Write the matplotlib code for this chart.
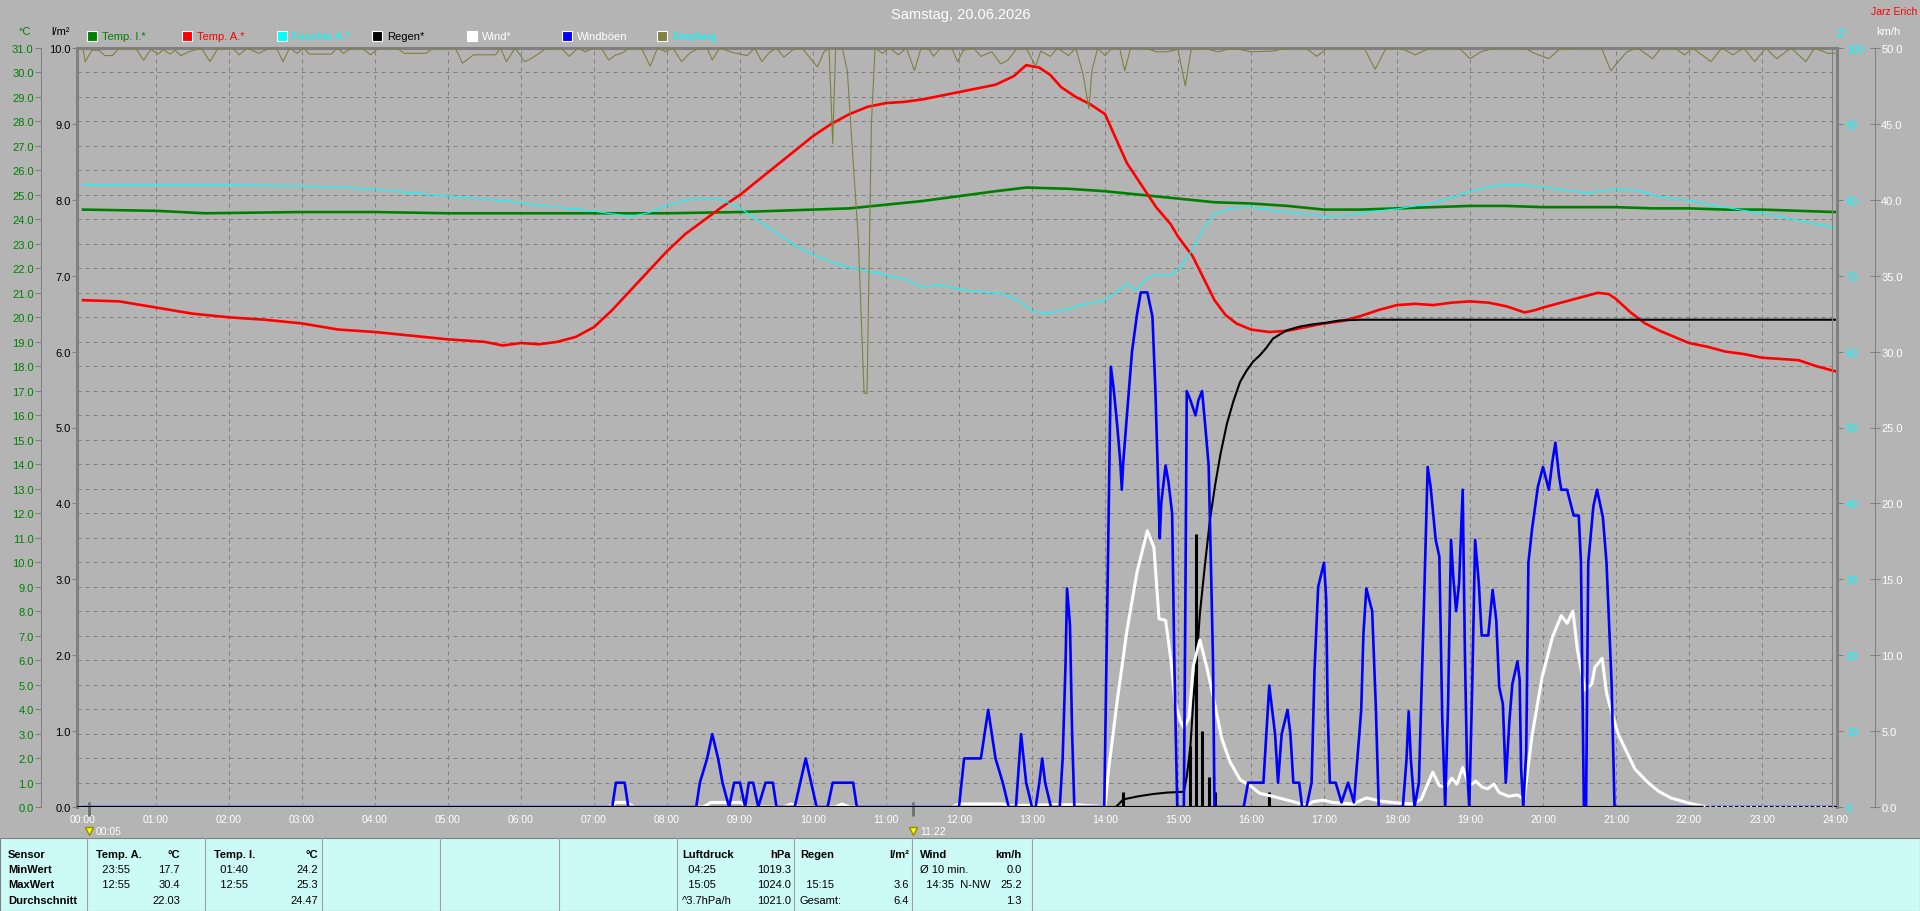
import matplotlib
matplotlib.use("Agg")
import matplotlib.pyplot as plt
from matplotlib.patches import Rectangle
from matplotlib.lines import Line2D
import numpy as np

plt.rcParams['font.family'] = ['Liberation Sans', 'DejaVu Sans']

# ---- data: (hour of day, value) ----
temp_innen = [(0.0, 24.4), (1.0, 24.35), (1.67, 24.25), (3.0, 24.3), (4.0, 24.3), (5.0, 24.25),
              (6.0, 24.25), (7.0, 24.25), (8.0, 24.25), (9.0, 24.3), (10.0, 24.4), (10.5, 24.45),
              (11.0, 24.6), (11.5, 24.75), (12.0, 24.95), (12.5, 25.15), (12.92, 25.3), (13.5, 25.25),
              (14.0, 25.15), (14.5, 25.0), (15.0, 24.85), (15.5, 24.7), (16.0, 24.65), (16.5, 24.55),
              (17.0, 24.4), (17.5, 24.4), (18.0, 24.45), (18.5, 24.5), (19.0, 24.55), (19.5, 24.55),
              (20.0, 24.5), (20.5, 24.5), (21.0, 24.5), (21.5, 24.45), (22.0, 24.45), (22.5, 24.4),
              (23.0, 24.4), (23.5, 24.35), (24.0, 24.3)]

temp_aussen = [(0.0, 20.7), (0.5, 20.65), (1.0, 20.4), (1.5, 20.15), (2.0, 20.0), (2.5, 19.9),
               (3.0, 19.75), (3.5, 19.5), (4.0, 19.4), (4.5, 19.25), (5.0, 19.1), (5.5, 19.0),
               (5.75, 18.85), (6.0, 18.95), (6.25, 18.9), (6.5, 19.0), (6.75, 19.2), (7.0, 19.6),
               (7.25, 20.3), (7.5, 21.1), (7.75, 21.9), (8.0, 22.7), (8.25, 23.4), (8.5, 23.95),
               (8.75, 24.5), (9.0, 25.0), (9.25, 25.6), (9.5, 26.2), (9.75, 26.8), (10.0, 27.4),
               (10.25, 27.9), (10.5, 28.3), (10.75, 28.6), (11.0, 28.75), (11.25, 28.8), (11.5, 28.9),
               (11.75, 29.05), (12.0, 29.2), (12.25, 29.35), (12.5, 29.5), (12.75, 29.85), (12.92, 30.3),
               (13.1, 30.2), (13.25, 29.9), (13.4, 29.4), (13.6, 29.0), (13.8, 28.7), (14.0, 28.3),
               (14.15, 27.3), (14.3, 26.3), (14.5, 25.4), (14.7, 24.5), (14.9, 23.8), (15.0, 23.3),
               (15.2, 22.5), (15.35, 21.6), (15.5, 20.7), (15.65, 20.1), (15.8, 19.75), (16.0, 19.5),
               (16.25, 19.4), (16.5, 19.45), (16.75, 19.6), (17.0, 19.75), (17.25, 19.85), (17.5, 20.05),
               (17.75, 20.3), (18.0, 20.5), (18.25, 20.55), (18.5, 20.5), (18.75, 20.6), (19.0, 20.65),
               (19.25, 20.6), (19.5, 20.45), (19.75, 20.2), (19.9, 20.3), (20.0, 20.4), (20.25, 20.6),
               (20.5, 20.8), (20.75, 21.0), (20.9, 20.95), (21.0, 20.75), (21.2, 20.2), (21.4, 19.75),
               (21.6, 19.45), (21.8, 19.2), (22.0, 18.95), (22.25, 18.8), (22.5, 18.6), (22.75, 18.5),
               (23.0, 18.35), (23.25, 18.3), (23.5, 18.25), (23.75, 18.0), (24.0, 17.8)]

feuchte = [(0.0, 82.0), (1.0, 82.0), (2.0, 81.9), (3.0, 81.8), (3.5, 81.7), (4.0, 81.4), (4.5, 80.9),
           (5.0, 80.5), (5.5, 80.1), (6.0, 79.6), (6.5, 79.0), (7.0, 78.5), (7.5, 77.8), (7.75, 78.3),
           (8.0, 79.3), (8.4, 80.2), (8.75, 80.0), (9.0, 78.9), (9.25, 77.3), (9.5, 75.6), (9.75, 74.0),
           (10.0, 72.8), (10.3, 71.6), (10.6, 70.9), (11.0, 70.1), (11.3, 69.4), (11.5, 68.5),
           (11.75, 68.8), (12.0, 68.2), (12.3, 67.9), (12.6, 67.6), (12.8, 66.8), (13.0, 65.4),
           (13.2, 65.0), (13.45, 65.5), (13.7, 66.2), (14.0, 66.8), (14.2, 68.2), (14.3, 69.0),
           (14.42, 68.0), (14.55, 69.5), (14.7, 70.2), (14.9, 70.0), (15.05, 71.3), (15.2, 73.5),
           (15.35, 76.2), (15.5, 78.2), (15.75, 78.9), (16.0, 79.0), (16.3, 78.6), (16.6, 78.3),
           (17.0, 77.8), (17.3, 77.9), (17.6, 78.4), (18.0, 78.8), (18.5, 79.6), (18.75, 80.3),
           (19.0, 81.1), (19.3, 81.8), (19.6, 82.0), (20.0, 81.7), (20.3, 81.3), (20.6, 80.9),
           (21.0, 81.4), (21.3, 81.2), (21.6, 80.4), (22.0, 79.9), (22.5, 79.0), (23.0, 78.2),
           (23.5, 77.3), (24.0, 76.3)]

regen_summe = [(0.0, 0.0), (14.15, 0.0), (14.25, 0.1), (14.45, 0.14), (14.65, 0.17), (14.85, 0.19),
               (15.08, 0.2), (15.12, 0.4), (15.17, 0.8), (15.21, 1.4), (15.26, 2.0), (15.3, 2.55),
               (15.37, 3.2), (15.44, 3.8), (15.51, 4.25), (15.58, 4.64), (15.67, 5.05), (15.76, 5.35),
               (15.85, 5.6), (15.94, 5.75), (16.03, 5.87), (16.12, 5.95), (16.21, 6.05), (16.3, 6.17),
               (16.4, 6.23), (16.49, 6.28), (16.67, 6.33), (16.85, 6.36), (17.03, 6.38), (17.21, 6.41),
               (17.5, 6.42), (24.0, 6.42)]

regen_5min = [(14.25, 0.2), (15.17, 0.8), (15.25, 3.6), (15.33, 1.0), (15.42, 0.4), (15.5, 0.2),
              (16.25, 0.2)]

wind = [(0.0, 0.0), (7.2, 0.0), (7.3, 0.3), (7.45, 0.3), (7.55, 0.0), (8.5, 0.0), (8.6, 0.3),
        (9.0, 0.3), (9.1, 0.0), (9.6, 0.0), (9.7, 0.2), (9.8, 0.0), (10.3, 0.0), (10.4, 0.2),
        (10.5, 0.0), (11.9, 0.0), (12.0, 0.2), (12.6, 0.2), (12.7, 0.1), (13.3, 0.15), (13.6, 0.15),
        (13.9, 0.05), (14.0, 0.0), (14.05, 2.5), (14.17, 7.1), (14.3, 11.6), (14.44, 15.5),
        (14.58, 18.2), (14.67, 17.1), (14.74, 12.4), (14.83, 12.3), (14.9, 9.8), (14.96, 6.9),
        (15.03, 5.7), (15.08, 5.2), (15.15, 5.9), (15.21, 9.3), (15.3, 11.0), (15.4, 9.1),
        (15.49, 7.1), (15.6, 4.5), (15.71, 3.0), (15.85, 1.8), (15.99, 1.4), (16.12, 0.9),
        (16.3, 0.7), (16.58, 0.35), (16.76, 0.1), (16.85, 0.35), (16.99, 0.45), (17.12, 0.3),
        (17.4, 0.2), (17.58, 0.6), (17.76, 0.4), (18.03, 0.25), (18.21, 0.2), (18.33, 0.5),
        (18.49, 2.3), (18.58, 1.4), (18.67, 1.3), (18.75, 1.9), (18.82, 1.5), (18.9, 2.6),
        (18.99, 1.4), (19.08, 1.7), (19.17, 1.3), (19.24, 1.2), (19.33, 1.5), (19.4, 0.95),
        (19.53, 0.7), (19.65, 0.8), (19.74, 0.5), (19.85, 4.7), (19.99, 8.6), (20.13, 11.2),
        (20.25, 12.6), (20.33, 12.1), (20.41, 12.9), (20.47, 10.4), (20.54, 8.6), (20.58, 7.7),
        (20.67, 8.1), (20.71, 9.2), (20.81, 9.8), (20.87, 7.5), (20.92, 6.6), (21.03, 4.8),
        (21.17, 3.4), (21.26, 2.5), (21.44, 1.6), (21.58, 1.05), (21.75, 0.6), (22.0, 0.25),
        (22.2, 0.05), (22.3, 0.0), (24.0, 0.0)]

boeen = [(0.0, 0), (7.25, 0), (7.3, 1.6), (7.42, 1.6), (7.47, 0),
         (8.4, 0), (8.45, 1.6), (8.55, 3.2), (8.62, 4.8), (8.7, 3.2), (8.76, 1.6), (8.85, 0),
         (8.92, 1.6), (9.0, 1.6), (9.07, 0), (9.12, 1.6), (9.18, 1.6), (9.25, 0), (9.35, 1.6),
         (9.45, 1.6), (9.5, 0), (9.75, 0), (9.9, 3.2), (10.05, 0), (10.2, 0), (10.27, 1.6),
         (10.55, 1.6), (10.6, 0), (12.0, 0), (12.07, 3.2), (12.3, 3.2), (12.4, 6.4), (12.5, 3.2),
         (12.6, 1.6), (12.68, 0), (12.78, 0), (12.85, 4.8), (12.92, 1.6), (13.0, 0), (13.05, 0),
         (13.1, 1.6), (13.14, 3.2), (13.18, 1.6), (13.26, 0), (13.38, 0), (13.42, 3.2), (13.46, 9.5),
         (13.48, 14.4), (13.52, 12.0), (13.55, 4.8), (13.58, 0),
         (13.99, 0), (14.02, 9.5), (14.05, 19.3), (14.08, 29.0), (14.12, 27.5), (14.17, 25.0),
         (14.21, 22.7), (14.23, 20.9), (14.25, 22.7), (14.31, 26.4), (14.37, 30.0), (14.44, 32.5),
         (14.49, 33.9), (14.58, 33.9), (14.65, 32.3), (14.69, 27.5), (14.72, 22.5), (14.75, 17.7),
         (14.77, 20.0), (14.83, 22.5), (14.87, 21.4), (14.92, 19.3), (14.95, 9.5), (14.99, 0),
         (15.08, 0), (15.1, 12.8), (15.12, 27.4), (15.17, 26.8), (15.24, 25.8), (15.28, 26.8),
         (15.33, 27.4), (15.37, 25.3), (15.42, 22.5), (15.45, 16.2), (15.48, 9.5), (15.5, 0),
         (15.9, 0), (15.96, 1.6), (16.17, 1.6), (16.25, 8.0), (16.29, 6.4), (16.33, 4.8),
         (16.37, 1.6), (16.42, 4.8), (16.5, 6.4), (16.54, 4.8), (16.58, 1.6), (16.66, 1.6),
         (16.7, 0), (16.76, 0), (16.83, 1.6), (16.87, 9.0), (16.92, 14.5), (17.0, 16.1),
         (17.03, 13.7), (17.05, 6.4), (17.08, 1.6), (17.16, 1.6), (17.24, 0.3), (17.33, 1.6),
         (17.41, 0.3), (17.51, 6.4), (17.54, 11.4), (17.58, 14.4), (17.66, 12.9), (17.71, 6.6),
         (17.75, 0), (18.08, 0), (18.13, 3.1), (18.16, 6.3), (18.19, 3.1), (18.24, 0), (18.3, 1.6),
         (18.37, 13.4), (18.42, 22.4), (18.46, 21.1), (18.53, 17.6), (18.58, 16.5), (18.62, 5.8),
         (18.66, 0), (18.7, 6.8), (18.74, 17.6), (18.77, 15.2), (18.81, 12.9), (18.85, 14.7),
         (18.9, 20.9), (18.93, 10.2), (18.96, 2.5), (18.99, 0), (19.03, 7.9), (19.07, 17.6),
         (19.12, 14.8), (19.16, 11.3), (19.25, 11.3), (19.31, 14.3), (19.36, 12.3), (19.4, 7.9),
         (19.45, 6.8), (19.49, 1.6), (19.54, 5.7), (19.58, 8.1), (19.65, 9.6), (19.68, 8.4),
         (19.7, 2.5), (19.73, 0), (19.77, 3.6), (19.8, 16.1), (19.85, 18.3), (19.93, 21.1),
         (20.0, 22.4), (20.08, 20.9), (20.13, 22.8), (20.17, 24.0), (20.22, 21.8), (20.25, 20.9),
         (20.33, 20.9), (20.42, 19.2), (20.49, 19.2), (20.52, 16.1), (20.56, 0), (20.59, 0),
         (20.62, 16.1), (20.69, 19.8), (20.74, 20.9), (20.82, 19.1), (20.87, 16.1), (20.94, 8.1),
         (20.98, 0), (24.0, 0)]

empfang = [(0.0, 100), (0.03, 98.2), (0.12, 99.7), (0.22, 99.7), (0.3, 99.0), (0.4, 99.0), (0.5, 100),
           (0.72, 100), (0.83, 98.4), (0.93, 99.8), (1.03, 99.2), (1.1, 99.8), (1.19, 99.2),
           (1.26, 99.7), (1.34, 99.0), (1.45, 99.5), (1.62, 100), (1.74, 98.2), (1.85, 100),
           (2.05, 100), (2.14, 99.1), (2.25, 100), (2.41, 99.3), (2.55, 100), (2.65, 100),
           (2.74, 98.2), (2.83, 100), (2.93, 99.3), (3.02, 100), (3.1, 99.2), (3.4, 99.2), (3.48, 100),
           (3.57, 99.3), (3.68, 100), (3.82, 100), (3.94, 99.1), (4.05, 100), (4.3, 100), (4.4, 99.3),
           (4.7, 99.3), (4.8, 100), (5.1, 100), (5.2, 98.0), (5.35, 99.1), (5.65, 99.1), (5.72, 100),
           (5.8, 98.2), (5.92, 100), (6.05, 98.2), (6.12, 98.5), (6.25, 99.3), (6.35, 100),
           (6.55, 100), (6.66, 98.9), (6.78, 100), (6.88, 99.5), (7.0, 100), (7.1, 100), (7.2, 98.4),
           (7.3, 99.1), (7.38, 99.3), (7.48, 100), (7.65, 100), (7.77, 97.6), (7.87, 100),
           (7.98, 99.5), (8.08, 100), (8.2, 98.2), (8.32, 99.4), (8.45, 100), (8.55, 100),
           (8.62, 98.4), (8.72, 100), (8.9, 99.4), (9.1, 99.0), (9.2, 100), (9.3, 98.2), (9.4, 99.4),
           (9.5, 100), (9.6, 98.8), (9.73, 99.8), (9.85, 100), (10.0, 98.2), (10.06, 97.5),
           (10.15, 99.5), (10.22, 100), (10.27, 87.4), (10.31, 100), (10.4, 100), (10.47, 97.0),
           (10.55, 85.0), (10.62, 75.0), (10.7, 54.5), (10.74, 54.5), (10.8, 90.0), (10.85, 100),
           (10.95, 99.3), (11.05, 100), (11.17, 99.1), (11.28, 100), (11.39, 97.0), (11.48, 100),
           (11.58, 100), (11.65, 98.9), (11.75, 100), (11.9, 100), (11.98, 98.2), (12.06, 99.7),
           (12.2, 100), (12.3, 98.9), (12.45, 99.5), (12.57, 97.9), (12.67, 98.4), (12.8, 100),
           (12.92, 100), (13.05, 97.6), (13.12, 99.6), (13.25, 98.9), (13.35, 100), (13.5, 99.0),
           (13.6, 100), (13.7, 96.5), (13.78, 92.0), (13.82, 97.0), (13.9, 100), (14.0, 99.0),
           (14.1, 100), (14.2, 100), (14.27, 97.0), (14.35, 100), (14.55, 100), (14.7, 99.5),
           (14.85, 99.5), (15.0, 99.8), (15.1, 95.0), (15.18, 99.8), (15.35, 100), (15.55, 99.5),
           (15.75, 100), (16.0, 99.5), (16.3, 99.6), (16.5, 100), (16.75, 100), (16.9, 98.9),
           (17.05, 100), (17.55, 100), (17.7, 97.2), (17.85, 100), (18.05, 100), (18.25, 99.1),
           (18.45, 100), (18.85, 100), (19.0, 98.6), (19.15, 99.5), (19.35, 100), (19.75, 100),
           (19.88, 99.3), (20.08, 98.6), (20.22, 99.8), (20.45, 100), (20.8, 100), (20.93, 97.0),
           (21.03, 98.2), (21.15, 99.5), (21.3, 100), (21.5, 98.6), (21.62, 100), (21.8, 100),
           (21.94, 99.1), (22.05, 100), (22.3, 98.2), (22.45, 100), (22.6, 99.1), (22.75, 100),
           (22.9, 98.2), (23.05, 100), (23.2, 98.6), (23.4, 100), (23.6, 98.2), (23.72, 100),
           (23.9, 99.3), (24.0, 99.3)]

marker_times = [0.083, 11.367]
marker_labels = ["00:05", "11:22"]

hours = list(range(25))
hour_labels = [f"{h:02d}:00" for h in hours]

legend_items = ["Temp. I.*", "Temp. A.*", "Feuchte A.*", "Regen*", "Wind*", "Windböen", "Empfang"]

row_names = ["MinWert", "MaxWert", "Durchschnitt"]
table_blocks = [
    ("Temp. A.", "°C", [("  23:55", "17.7"), ("  12:55", "30.4"), ("", "22.03")]),
    ("Temp. I.", "°C", [("  01:40", "24.2"), ("  12:55", "25.3"), ("", "24.47")]),
    ("Luftdruck", "hPa", [("  04:25", "1019.3"), ("  15:05", "1024.0"), ("^3.7hPa/h", "1021.0")]),
    ("Regen", "l/m²", [("", ""), ("  15:15", "3.6"), ("Gesamt:", "6.4")]),
    ("Wind", "km/h", [("Ø 10 min.", "0.0"), ("  14:35  N-NW", "25.2"), ("", "1.3")]),
]


def xy(pairs):
    a = np.array(pairs, dtype=float)
    return a[:, 0], a[:, 1]


# ---- style / layout ----
BG = "#B4B4B4"
GRID = "#808080"
GREEN = "#008000"
RED = "#FF0000"
CYAN = "#00FFFF"
BLUE = "#0000FF"
OLIVE = "#808040"
TABLE_BG = "#CCFAF6"
legend_colors = [GREEN, RED, CYAN, "black", "white", BLUE, OLIVE]
legend_text_colors = [GREEN, RED, CYAN, "black", "white", "white", CYAN]

W, H = 1920, 912
L, R, T, B = 77, 1837, 49, 808      # plot frame in pixels
X0, X24 = 83, 1835                  # pixel of 00:00 and 24:00
px_h = (X24 - X0) / 24
xlim = ((L - X0) / px_h, 24 + (R - X24) / px_h)

fig = plt.figure(figsize=(W / 100, H / 100), dpi=100, facecolor=BG)

deco = fig.add_axes([0, 0, 1, 1])
deco.set_xlim(0, W)
deco.set_ylim(H, 0)
deco.axis("off")

# temperature axis (base, carries the grid)
ax = fig.add_axes([L / W, 1 - B / H, (R - L) / W, (B - T) / H])
ax.set_facecolor(BG)
ax.set_xlim(*xlim)
ax.set_ylim(0, 31)
ax.set_yticks(range(32))
ax.set_yticklabels([f"{v:.1f}" for v in range(32)])
ax.set_xticks(hours)
ax.set_xticklabels(hour_labels)
ax.tick_params(axis="y", colors=GRID, labelcolor=GREEN, length=4.3, width=0.75, labelsize=8, pad=1)
ax.tick_params(axis="x", length=0, labelcolor="white", labelsize=7.5, pad=5)
ax.spines["left"].set_position(("axes", (41 - L) / (R - L)))
ax.spines["left"].set_color(GRID)
ax.spines["left"].set_linewidth(0.75)
ax.spines["right"].set_visible(False)
ax.spines["bottom"].set_visible(False)
ax.spines["top"].set_color(GRID)
ax.spines["top"].set_linewidth(2.2)
ax.grid(True, color=GRID, linestyle=(0, (4, 4)), linewidth=0.72)
ax.xaxis.get_gridlines()[0].set_visible(False)
ax.xaxis.get_gridlines()[-1].set_visible(False)

# rain axis (l/m²) at the frame
ax_r = ax.twinx()
ax_r.set_ylim(0, 10)
ax_r.yaxis.tick_left()
ax_r.set_yticks(range(11))
ax_r.set_yticklabels([f"{v:.1f}" for v in range(11)])
ax_r.tick_params(axis="y", colors=GRID, labelcolor="black", length=3.6, width=0.75, labelsize=8, pad=1)
for s in ["right", "top", "bottom"]:
    ax_r.spines[s].set_visible(False)
ax_r.spines["left"].set_visible(True)
ax_r.spines["left"].set_color(GRID)
ax_r.spines["left"].set_linewidth(2.2)

# humidity axis (%)
ax_h = ax.twinx()
ax_h.set_ylim(0, 100)
ax_h.set_yticks(range(0, 101, 10))
ax_h.set_yticklabels([str(v) for v in range(0, 101, 10)])
ax_h.tick_params(axis="y", colors=GRID, labelcolor=CYAN, length=4.3, width=0.75, labelsize=8, pad=2)
for s in ["left", "top", "bottom"]:
    ax_h.spines[s].set_visible(False)
ax_h.spines["right"].set_color(GRID)
ax_h.spines["right"].set_linewidth(2.2)

# wind axis (km/h)
ax_w = ax.twinx()
ax_w.set_ylim(0, 50)
ax_w.set_yticks(range(0, 51, 5))
ax_w.set_yticklabels([f"{v:.1f}" for v in range(0, 51, 5)])
ax_w.tick_params(axis="y", colors=GRID, labelcolor="white", length=7, width=0.75,
                 labelsize=8, pad=1, direction="inout")
for s in ["left", "top", "bottom"]:
    ax_w.spines[s].set_visible(False)
ax_w.spines["right"].set_position(("axes", (1875 - L) / (R - L)))
ax_w.spines["right"].set_color(GRID)
ax_w.spines["right"].set_linewidth(0.75)

# ---- series ----
t, v = xy(temp_innen)
ax.plot(t, v, color=GREEN, lw=1.9)
t, v = xy(temp_aussen)
ax.plot(t, v, color=RED, lw=1.9)

t, v = xy(regen_summe)
ax_r.plot(t, v, color="black", lw=1.5)
t, v = xy(regen_5min)
ax_r.vlines(t, 0, v, color="black", lw=2.2)

t, v = xy(feuchte)
ax_h.plot(t, v, color=CYAN, lw=0.8)

t, v = xy(wind)
ax_w.plot(t, v, color="white", lw=2.2)
t, v = xy(boeen)
ax_w.plot(t, v, color=BLUE, lw=1.9)
ax_w.axhline(0, color="black", lw=1.5, zorder=5)
wt, wv = xy(wind)
tail = wt >= 22.2
ax_w.plot(wt[tail], wv[tail], color="white", lw=1.4, linestyle=(0, (1, 2)), zorder=6)

t, v = xy(empfang)
ax_w.plot(t, v / 2, color=OLIVE, lw=0.8, zorder=7)  # Empfang in % on the 0-100 scale

# event markers below the time axis
tr = ax.get_xaxis_transform()
ax.vlines(marker_times, -0.012, 0.0066, transform=tr, color="#6E6E6E", lw=2.0, clip_on=False)
ax.plot(marker_times, [-0.032] * len(marker_times), transform=tr, linestyle="none",
        marker="v", markersize=6, color="#FFFF00", markeredgecolor="#909000", clip_on=False)
for mt, ml in zip(marker_times, marker_labels):
    ax.annotate(ml, (mt, -0.032), xycoords=tr, xytext=(5, 0), textcoords="offset points",
                color="white", fontsize=7.5, va="center", ha="left", annotation_clip=False)

fig.add_artist(Line2D([1832 / W] * 2, [1 - T / H, 1 - B / H], color=GRID, lw=0.75))

# ---- headings and legend ----
deco.text(961, 15, "Samstag, 20.06.2026", ha="center", va="center", color="white", fontsize=10.5)
deco.text(1917, 12, "Jarz Erich", ha="right", va="center", color=RED, fontsize=7.5)
deco.text(25, 32, "°C", ha="center", va="center", color=GREEN, fontsize=8)
deco.text(60, 32, "l/m²", ha="center", va="center", color="black", fontsize=8)
deco.text(1843, 32, "%", ha="center", va="center", color=CYAN, fontsize=8, rotation=90)
deco.text(1888, 32, "km/h", ha="center", va="center", color="white", fontsize=8)

for i, (name, fc, tc) in enumerate(zip(legend_items, legend_colors, legend_text_colors)):
    lx = 87 + 95 * i
    deco.add_patch(Rectangle((lx, 32), 10, 10, facecolor=fc, edgecolor="white", lw=0.8))
    deco.text(lx + 15, 37.5, name, ha="left", va="center", color=tc, fontsize=8)

# ---- statistics table ----
deco.add_patch(Rectangle((0, 839), W, 73, facecolor=TABLE_BG, edgecolor=GRID, lw=0.8))
for sx in [87, 205, 322, 440, 559, 677, 794, 912, 1032]:
    deco.plot([sx, sx], [839, 912], color="#A0A0A0", lw=0.8)

row_y = [855, 870, 885, 901]
deco.text(8, row_y[0], "Sensor", fontsize=8, fontweight="bold", va="center")
for y, name in zip(row_y[1:], row_names):
    deco.text(8, y, name, fontsize=8, fontweight="bold", va="center")

block_x = [(96, 180), (214, 318), (682, 791), (800, 909), (920, 1022)]
for (xl, xr), (head, unit, rows) in zip(block_x, table_blocks):
    deco.text(xl, row_y[0], head, fontsize=8, fontweight="bold", va="center", ha="left")
    deco.text(xr, row_y[0], unit, fontsize=8, fontweight="bold", va="center", ha="right")
    for y, (lt, rt) in zip(row_y[1:], rows):
        deco.text(xl, y, lt, fontsize=8, va="center", ha="left")
        deco.text(xr, y, rt, fontsize=8, va="center", ha="right")

fig.savefig("out.png", dpi=100, facecolor=BG)
